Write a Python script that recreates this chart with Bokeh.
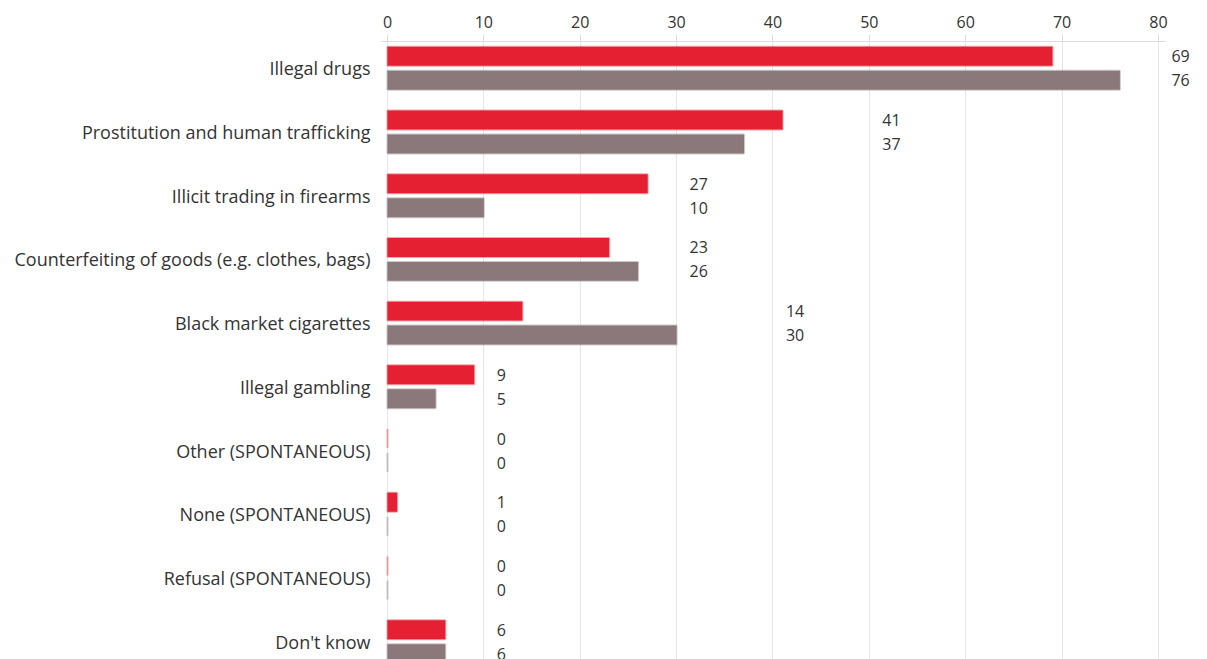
from bokeh.plotting import figure
from bokeh.models import Range1d, FixedTicker, ColumnDataSource, LabelSet
from bokeh.core.properties import value
from bokeh.embed import file_html
from bokeh.resources import INLINE

categories = ["Illegal drugs", "Prostitution and human trafficking", "Illicit trading in firearms",
              "Counterfeiting of goods (e.g. clothes, bags)", "Black market cigarettes",
              "Illegal gambling", "Other (SPONTANEOUS)", "None (SPONTANEOUS)",
              "Refusal (SPONTANEOUS)", "Don't know"]
series_red = [69, 41, 27, 23, 14, 9, 0, 1, 0, 6]
series_grey = [76, 37, 10, 26, 30, 5, 0, 0, 0, 6]
x_ticks = [0, 10, 20, 30, 40, 50, 60, 70, 80]

RED = "#E42032"
GREY = "#8A787B"
FONT = "Open Sans"

ypos = [-i for i in range(len(categories))]
off = 0.188
bh = 0.298
label_x = [(max(a, b) // 10 + 1) * 10 for a, b in zip(series_red, series_grey)]

src = ColumnDataSource(dict(
    y_red=[y + off for y in ypos],
    y_grey=[y - off for y in ypos],
    red=series_red, grey=series_grey,
    red_txt=[str(v) for v in series_red],
    grey_txt=[str(v) for v in series_grey],
    lx=label_x,
))

p = figure(width=1207, height=659, output_backend="svg", toolbar_location=None,
           x_range=Range1d(-0.62, 85.09), y_range=Range1d(-9.28, 0.42),
           x_axis_location="above", min_border_left=381, min_border_right=0,
           min_border_top=41, min_border_bottom=0)
p.outline_line_color = None
p.background_fill_color = "white"

p.hbar(y="y_red", left=0, right="red", height=bh, source=src, fill_color=RED,
       line_color=RED, line_alpha=0.4, line_width=2)
p.hbar(y="y_grey", left=0, right="grey", height=bh, source=src, fill_color=GREY,
       line_color=GREY, line_alpha=0.4, line_width=2)

for col_y, col_t in (("y_red", "red_txt"), ("y_grey", "grey_txt")):
    p.add_layout(LabelSet(x="lx", y=col_y, text=col_t, source=src, x_offset=13,
                          text_align="left", text_baseline="middle",
                          text_font=value(FONT), text_font_size=value("16px"),
                          text_color="#333333"))

xa = p.xaxis[0]
xa.ticker = FixedTicker(ticks=x_ticks)
xa.bounds = (-0.62, 80.73)
xa.axis_line_color = "#dddddd"
xa.major_tick_line_color = "#dddddd"
xa.major_tick_out = 7
xa.major_tick_in = 0
xa.minor_tick_line_color = None
xa.major_label_text_font = FONT
xa.major_label_text_font_size = "16px"
xa.major_label_text_color = "#333333"
xa.major_label_standoff = 7

ya = p.yaxis[0]
ya.ticker = FixedTicker(ticks=ypos)
ya.major_label_overrides = {y: c for y, c in zip(ypos, categories)}
ya.axis_line_color = None
ya.major_tick_line_color = None
ya.minor_tick_line_color = None
ya.major_label_text_font = FONT
ya.major_label_text_font_size = "18px"
ya.major_label_text_color = "#333333"
ya.major_label_standoff = 5

p.xgrid.grid_line_color = "#e6e6e6"
p.xgrid.ticker = FixedTicker(ticks=x_ticks)
p.ygrid.grid_line_color = None

open("out.html", "w").write(file_html(p, INLINE))
